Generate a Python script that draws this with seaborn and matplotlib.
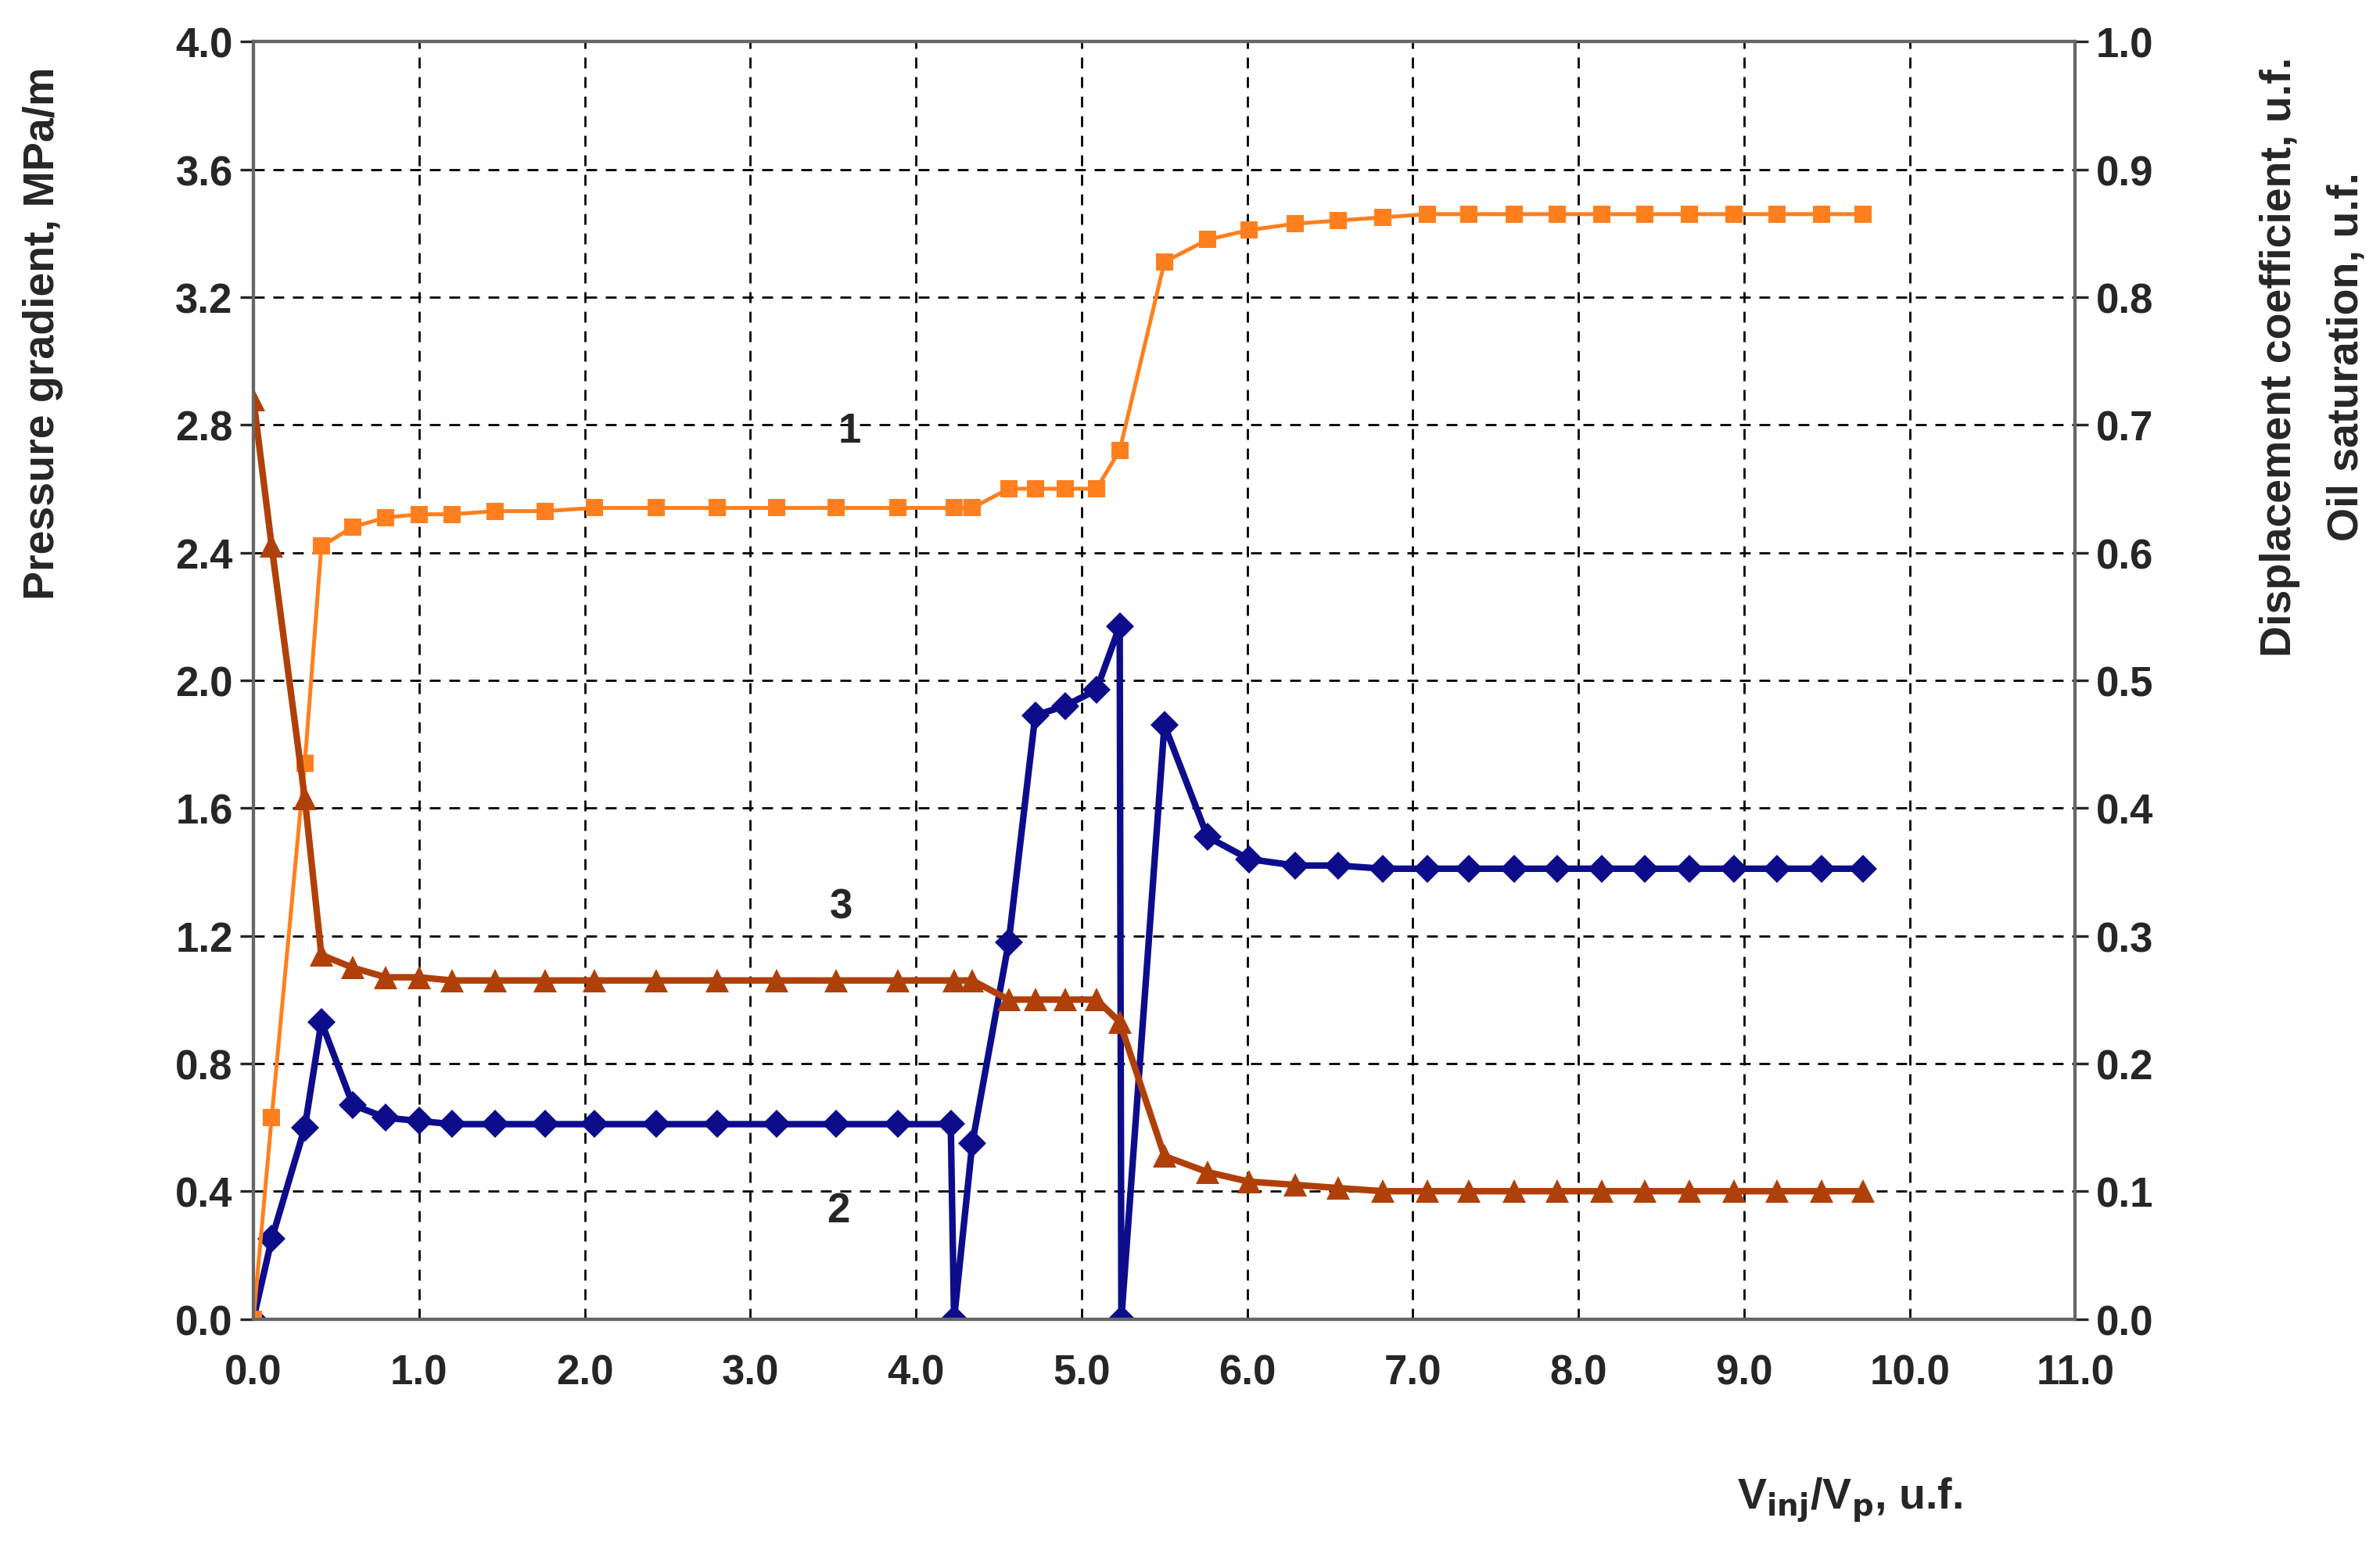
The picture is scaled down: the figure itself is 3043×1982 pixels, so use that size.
import matplotlib
matplotlib.use("Agg")
import matplotlib.pyplot as plt
import seaborn as sns
import pandas as pd

x1 = [0,0.11,0.31,0.41,0.6,0.8,1.0,1.2,1.46,1.76,2.06,2.43,2.8,3.16,3.52,3.89,4.23,4.34,4.56,4.72,4.9,5.09,5.23,5.5,5.76,6.01,6.29,6.55,6.82,7.09,7.34,7.61,7.87,8.14,8.4,8.67,8.94,9.2,9.47,9.72]
y1_left = [0,0.63,1.74,2.42,2.48,2.51,2.52,2.52,2.53,2.53,2.54,2.54,2.54,2.54,2.54,2.54,2.54,2.54,2.60,2.60,2.60,2.60,2.72,3.31,3.38,3.41,3.43,3.44,3.45,3.46,3.46,3.46,3.46,3.46,3.46,3.46,3.46,3.46,3.46,3.46]
x2 = [0,0.11,0.31,0.41,0.6,0.8,1.0,1.2,1.46,1.76,2.06,2.43,2.8,3.16,3.52,3.89,4.21,4.23,4.34,4.56,4.72,4.9,5.09,5.23,5.24,5.5,5.76,6.01,6.29,6.55,6.82,7.09,7.34,7.61,7.87,8.14,8.4,8.67,8.94,9.2,9.47,9.72]
y2 = [0,0.25,0.6,0.93,0.67,0.63,0.62,0.61,0.61,0.61,0.61,0.61,0.61,0.61,0.61,0.61,0.61,0.0,0.55,1.18,1.89,1.92,1.97,2.17,0.0,1.86,1.51,1.44,1.42,1.42,1.41,1.41,1.41,1.41,1.41,1.41,1.41,1.41,1.41,1.41,1.41,1.41]
x3 = x1
y3_left = [2.88,2.42,1.63,1.14,1.10,1.07,1.07,1.06,1.06,1.06,1.06,1.06,1.06,1.06,1.06,1.06,1.06,1.06,1.00,1.00,1.00,1.00,0.93,0.51,0.46,0.43,0.42,0.41,0.40,0.40,0.40,0.40,0.40,0.40,0.40,0.40,0.40,0.40,0.40,0.40]

sns.set_theme(style="white")
plt.rcParams['font.family'] = ['Liberation Sans', 'DejaVu Sans']
plt.rcParams['font.weight'] = 'bold'

fig = plt.figure(figsize=(15.215, 9.915), dpi=200)
ax = fig.add_axes([0.1065, 0.149, 0.7655, 0.8236])
ax2 = ax.twinx()

d1 = pd.DataFrame({'x': x1, 'y': [v/4 for v in y1_left]})
d2 = pd.DataFrame({'x': x2, 'y': y2})
d3 = pd.DataFrame({'x': x3, 'y': [v/4 for v in y3_left]})

sns.lineplot(data=d2, x='x', y='y', ax=ax, color='#0d0d8c', lw=3, marker='D', markersize=9, sort=False, markeredgewidth=0)
sns.lineplot(data=d1, x='x', y='y', ax=ax2, color='#ff7f1e', lw=1.8, marker='s', markersize=8, sort=False, markeredgewidth=0)
sns.lineplot(data=d3, x='x', y='y', ax=ax2, color='#b0400a', lw=3, marker='^', markersize=11, sort=False, markeredgewidth=0)

ax.set_xlim(0, 11); ax.set_ylim(0, 4)
ax2.set_ylim(0, 1)
ax.set_xticks([i for i in range(12)])
ax.set_xticklabels([f"{i:.1f}" for i in range(12)])
ax.set_yticks([i*0.4 for i in range(11)])
ax.set_yticklabels([f"{i*0.4:.1f}" for i in range(11)])
ax2.set_yticks([i*0.1 for i in range(11)])
ax2.set_yticklabels([f"{i*0.1:.1f}" for i in range(11)])
for a in (ax, ax2):
    a.tick_params(labelsize=19, length=6, direction='out', width=1.2)
    a.set_xlabel('')
    for s in a.spines.values():
        s.set_color('#666666'); s.set_linewidth(1.5)
ax.tick_params(axis='x', pad=10)
ax.grid(True, color='black', ls=(0, (5, 4)), lw=1.0)
ax.set_axisbelow(True)
ax.set_ylabel(''); ax2.set_ylabel('')
fig.text(0.018, 0.785, 'Pressure gradient, MPa/m', fontsize=20, fontweight='bold', rotation=90, ha='center', va='center')
fig.text(0.958, 0.77, 'Displacement coefficient, u.f.', fontsize=20, fontweight='bold', rotation=90, ha='center', va='center')
fig.text(0.986, 0.77, 'Oil saturation, u.f.', fontsize=20, fontweight='bold', rotation=90, ha='center', va='center')
fig.text(0.73, 0.027, r'V$_{\mathbf{inj}}$/V$_{\mathbf{p}}$, u.f.', fontsize=20, fontweight='bold')
ax.text(3.6, 2.78, '1', fontsize=19, fontweight='bold', ha='center', va='center')
ax.text(3.55, 1.29, '3', fontsize=19, fontweight='bold', ha='center', va='center')
ax.text(3.53, 0.34, '2', fontsize=19, fontweight='bold', ha='center', va='center')
fig.savefig('out.png', dpi=200)
